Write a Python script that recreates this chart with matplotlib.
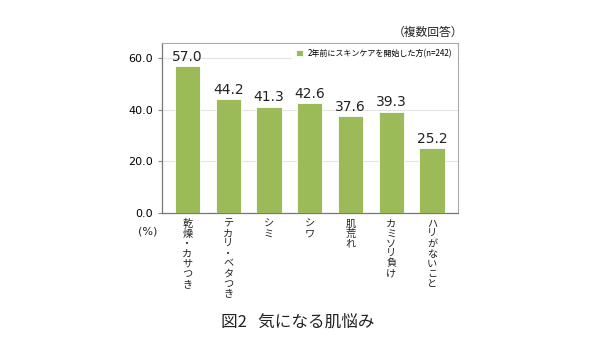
import matplotlib
matplotlib.use("Agg")
import matplotlib.pyplot as plt
import numpy as np

plt.rcParams['font.family'] = ['Noto Sans CJK JP', 'DejaVu Sans']

categories = ["乾燥・カサつき", "テカリ・ベタつき", "シミ", "シワ", "肌荒れ", "カミソリ負け", "ハリがないこと"]
values = [57.0, 44.2, 41.3, 42.6, 37.6, 39.3, 25.2]
series_name = "2年前にスキンケアを開始した方(n=242)"
yticks = [0, 20, 40, 60]

green = "#9BBB59"

fig = plt.figure(figsize=(6, 3.43), dpi=100)
ax = fig.add_axes([0.2695, 0.379, 0.4933, 0.4956])

x = np.arange(len(categories))
bars = ax.bar(x, values, width=0.62, color=green, edgecolor="white", linewidth=0.6,
              label=series_name, zorder=3)
for xi, v in zip(x, values):
    ax.text(xi, v + 1.0, f"{v:.1f}", ha="center", va="bottom", fontsize=10,
            color="#222222", family=['DejaVu Sans'], zorder=4)

ax.set_xlim(-0.63, len(categories) - 1 + 0.63)
ax.set_ylim(0, 66)
ax.set_yticks(yticks)
ax.set_yticklabels([f"{t:.1f}" for t in yticks], fontsize=8, family=['DejaVu Sans'])
ax.yaxis.grid(True, color="#e4e4e4", linewidth=0.8, zorder=0)
ax.set_axisbelow(True)
ax.set_xticks([])
ax.tick_params(axis="y", length=3, color="#888888", pad=3)

for s in ["top", "right"]:
    ax.spines[s].set_color("#aaaaaa")
    ax.spines[s].set_linewidth(0.8)
for s in ["left", "bottom"]:
    ax.spines[s].set_color("#777777")
    ax.spines[s].set_linewidth(0.9)

# vertical (tategaki) category labels
for xi, lab in zip(x, categories):
    ax.text(xi, -2.2, "\n".join(lab), ha="center", va="top", fontsize=7.3,
            linespacing=1.0, color="#222222")

ax.text(-0.98, -7.2, "(%)", ha="center", va="center", fontsize=8, color="#222222",
        family=['DejaVu Sans'])

leg = ax.legend(loc="upper right", bbox_to_anchor=(1.0, 1.0), fontsize=5.8, frameon=True,
                handlelength=0.8, handleheight=0.8, handletextpad=0.6, borderpad=0.5,
                borderaxespad=0.2)
leg.get_frame().set_edgecolor("white")
leg.get_frame().set_facecolor("white")
leg.get_frame().set_alpha(1)

fig.text(0.772, 0.905, "（複数回答）", ha="right", va="center", fontsize=8.5, color="#222222")
fig.text(0.497, 0.062, "図2   気になる肌悩み", ha="center", va="center", fontsize=12, color="#222222")

fig.savefig("out.png", dpi=100)
